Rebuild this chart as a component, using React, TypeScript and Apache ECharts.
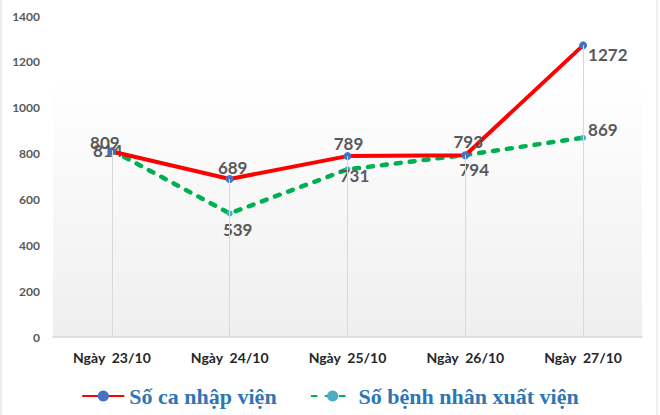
import React, { useEffect, useRef } from "react";
import * as echarts from "echarts";

const categories = ["Ngày  23/10", "Ngày  24/10", "Ngày  25/10", "Ngày  26/10", "Ngày  27/10"];
const admitted = [809, 689, 789, 793, 1272];
const discharged = [814, 539, 731, 794, 869];
const seriesNames = ["Số ca nhập viện", "Số bệnh nhân xuất viện"];

const admittedLabelPos = ["top", "top", "top", "top", "right"];
const admittedLabelOffsets = [[-7, 8], [3, 6], [1, 5], [3, 4], [-4, 9]];
const dischargedLabelPos = ["top", "bottom", "bottom", "bottom", "right"];
const dischargedLabelOffsets = [[-4, 17], [8, 0], [7, -10], [9, -2], [-3, -8]];

export default function App() {
  const ref = useRef<HTMLDivElement>(null);
  useEffect(() => {
    if (!ref.current) return;
    const chart = echarts.init(ref.current, null, { renderer: "svg" });
    const labelStyle = {
      show: true,
      fontFamily: "Lato",
      fontWeight: "bold",
      fontSize: 17,
      color: "#595959",
    };
    const dropLines = categories.map((_, i) => [
      { coord: [i, Math.max(admitted[i], discharged[i])] },
      { coord: [i, 0] },
    ]);
    chart.setOption({
      animation: false,
      backgroundColor: "#ffffff",
      grid: {
        left: 53,
        right: 18,
        top: 16,
        bottom: 78,
        show: true,
        borderWidth: 0,
        backgroundColor: {
          type: "linear",
          x: 0,
          y: 0,
          x2: 0,
          y2: 1,
          colorStops: [
            { offset: 0, color: "#ffffff" },
            { offset: 0.2, color: "#ffffff" },
            { offset: 1, color: "#efefef" },
          ],
        },
      },
      xAxis: {
        type: "category",
        data: categories,
        boundaryGap: true,
        axisLine: { lineStyle: { color: "#d9d9d9", width: 1.5 } },
        axisTick: { show: false },
        axisLabel: {
          fontFamily: "Lato",
          fontWeight: "bold",
          fontSize: 14,
          color: "#262626",
          margin: 13,
        },
      },
      yAxis: {
        type: "value",
        min: 0,
        max: 1400,
        interval: 200,
        splitLine: { show: false },
        axisLine: { show: false },
        axisTick: { show: false },
        axisLabel: {
          fontFamily: "Lato",
          fontWeight: "bold",
          fontSize: 12,
          color: "#595959",
          margin: 13,
          formatter: (v: number) => String(v),
        },
      },
      legend: {
        data: seriesNames,
        left: "center",
        top: 380,
        itemWidth: 42,
        itemHeight: 14,
        itemGap: 34,
        textStyle: {
          fontFamily: "Liberation Serif",
          fontWeight: "bold",
          fontSize: 22,
          color: "#2e75b6",
        },
      },
      series: [
        {
          name: "drop",
          type: "line",
          data: [],
          z: 0,
          silent: true,
          markLine: {
            silent: true,
            symbol: "none",
            label: { show: false },
            lineStyle: { color: "#d9d9d9", width: 1, type: "solid" },
            data: dropLines,
          },
        },
        {
          name: seriesNames[1],
          type: "line",
          z: 2,
          data: discharged.map((v, i) => ({
            value: v,
            label: {
              position: dischargedLabelPos[i],
              offset: dischargedLabelOffsets[i],
            },
          })),
          symbol: "circle",
          symbolSize: 6,
          itemStyle: { color: "#4bacc6" },
          lineStyle: { color: "#00b050", width: 4.5, type: [5, 9], cap: "round" },
          label: labelStyle,
        },
        {
          name: seriesNames[0],
          type: "line",
          z: 3,
          data: admitted.map((v, i) => ({
            value: v,
            label: {
              position: admittedLabelPos[i],
              offset: admittedLabelOffsets[i],
            },
          })),
          symbol: "circle",
          symbolSize: 8,
          itemStyle: { color: "#4472c4" },
          lineStyle: { color: "#ff0000", width: 4 },
          label: labelStyle,
        },
      ],
      graphic: [
        { type: "line", shape: { x1: 1, y1: 0, x2: 1, y2: 415 }, style: { stroke: "#d9d9d9", lineWidth: 1 } },
        { type: "line", shape: { x1: 657, y1: 0, x2: 657, y2: 415 }, style: { stroke: "#e3e3e3", lineWidth: 1 } },
      ],
    });
    return () => chart.dispose();
  }, []);
  return (
    <div
      ref={ref}
      style={{ position: "absolute", left: 0, top: 0, width: 660, height: 415 }}
    />
  );
}
